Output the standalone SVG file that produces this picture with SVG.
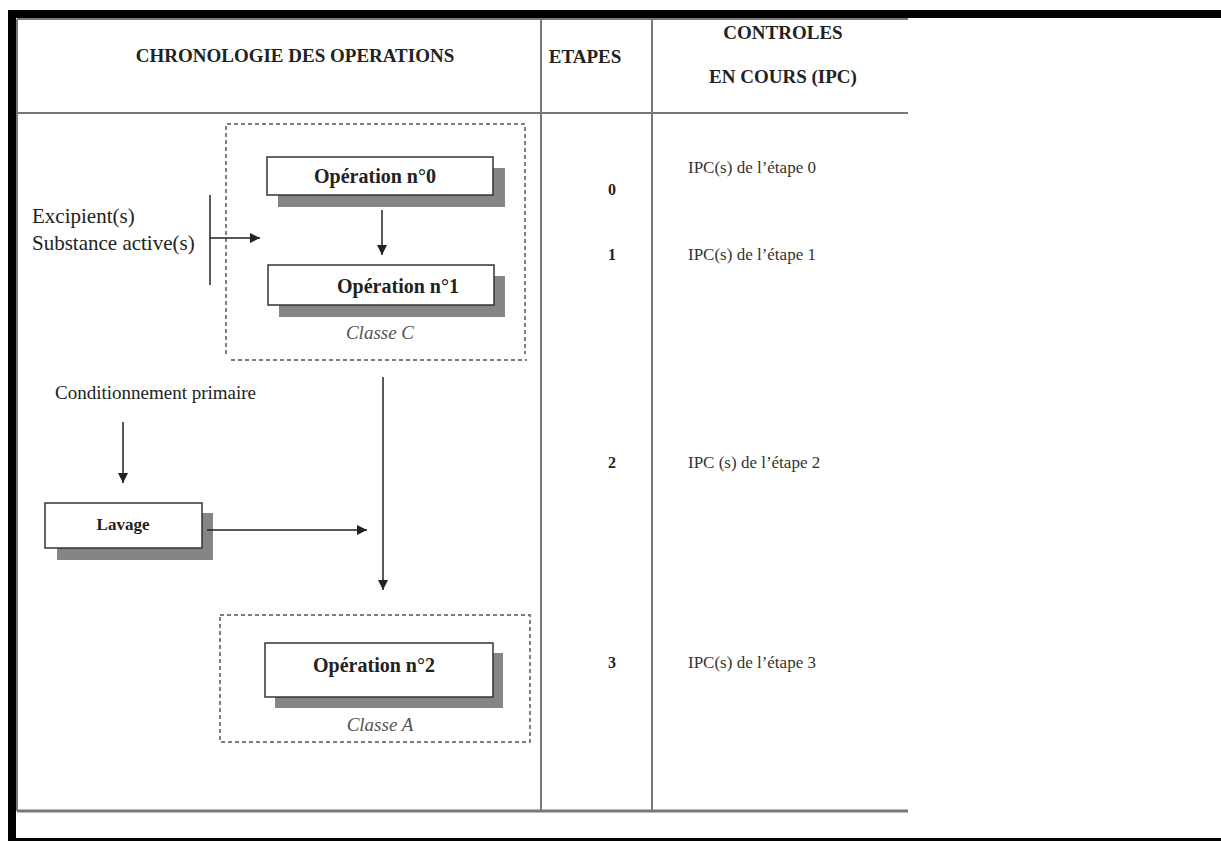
<svg xmlns="http://www.w3.org/2000/svg" width="1221" height="841" viewBox="0 0 1221 841">
<defs>
<style>
.serif{font-family:"Liberation Serif","Times New Roman",serif;fill:#222}
.hdr{font-size:19px;font-weight:bold;text-anchor:middle}
.node{font-size:20px;font-weight:bold;text-anchor:middle}
.txt{font-size:21px}
.ipc{font-size:17px;fill:#333}
.num{font-size:16px;font-weight:bold;text-anchor:middle}
.cls{font-size:19px;font-style:italic;fill:#555;text-anchor:middle}
.grid{stroke:#777;stroke-width:2;fill:none}
.box{fill:#fff;stroke:#333;stroke-width:1.5}
.shadow{fill:#858585}
.dash{fill:none;stroke:#555;stroke-width:1.5;stroke-dasharray:4 3}
.conn{stroke:#222;stroke-width:1.5;fill:none}
</style>
<marker id="arr" viewBox="0 0 10 10" refX="10" refY="5" markerWidth="11" markerHeight="10" markerUnits="userSpaceOnUse" orient="auto">
<path d="M0,0 L10,5 L0,10 z" fill="#222"/>
</marker>
</defs>
<rect width="1221" height="841" fill="#fff"/>
<g id="frame">
<rect x="8" y="10" width="1213" height="8" fill="#000"/>
<rect x="8" y="10" width="8" height="831" fill="#000"/>
<rect x="8" y="838" width="1213" height="3" fill="#000"/>
</g>
<g id="table">
<line class="grid" x1="17" y1="19" x2="908" y2="19"/>
<line class="grid" x1="17" y1="19" x2="17" y2="811"/>
<line class="grid" x1="17" y1="113" x2="908" y2="113"/>
<line class="grid" x1="541" y1="19" x2="541" y2="811"/>
<line class="grid" x1="652" y1="19" x2="652" y2="811"/>
<line x1="17" y1="811" x2="908" y2="811" stroke="#777" stroke-width="3"/>
<text class="serif hdr" x="295" y="62">CHRONOLOGIE DES OPERATIONS</text>
<text class="serif hdr" x="585" y="63">ETAPES</text>
<text class="serif hdr" x="783" y="39">CONTROLES</text>
<text class="serif hdr" x="783" y="83">EN COURS (IPC)</text>
</g>
<g id="steps">
<text class="serif num" x="612" y="195">0</text>
<text class="serif num" x="612" y="260">1</text>
<text class="serif num" x="612" y="468">2</text>
<text class="serif num" x="612" y="668">3</text>
<text class="serif ipc" x="688" y="173">IPC(s) de l’étape 0</text>
<text class="serif ipc" x="688" y="260">IPC(s) de l’étape 1</text>
<text class="serif ipc" x="688" y="468">IPC (s) de l’étape 2</text>
<text class="serif ipc" x="688" y="668">IPC(s) de l’étape 3</text>
</g>
<g id="classeC">
<path class="dash" d="M226,354 V124 H525 V354 M231,360 H527"/>
<text class="serif cls" x="380" y="339">Classe C</text>
</g>
<g id="classeA">
<rect class="dash" x="220" y="615" width="310" height="127"/>
<text class="serif cls" x="380" y="731">Classe A</text>
</g>
<g id="op0">
<rect class="shadow" x="278" y="168" width="227" height="39"/>
<rect class="box" x="267" y="157" width="226" height="38"/>
<text class="serif node" x="375" y="183">Opération n°0</text>
</g>
<g id="op1">
<rect class="shadow" x="279" y="276" width="226" height="41"/>
<rect class="box" x="268" y="265" width="226" height="40"/>
<text class="serif node" x="398" y="293">Opération n°1</text>
</g>
<g id="op2">
<rect class="shadow" x="275" y="653" width="228" height="55"/>
<rect class="box" x="265" y="643" width="228" height="54"/>
<text class="serif node" x="374" y="672">Opération n°2</text>
</g>
<g id="lavage">
<rect class="shadow" x="57" y="513" width="156" height="47"/>
<rect class="box" x="45" y="503" width="157" height="45"/>
<text class="serif node" x="123" y="530" style="font-size:17px">Lavage</text>
</g>
<g id="inputs">
<text class="serif txt" x="32" y="223">Excipient(s)</text>
<text class="serif txt" x="32" y="250">Substance active(s)</text>
</g>
<g id="condPrimaire">
<text class="serif txt" x="55" y="399" style="font-size:19px">Conditionnement primaire</text>
</g>
<g id="connectors">
<line class="conn" x1="210" y1="195" x2="210" y2="285"/>
<line class="conn" x1="210" y1="238" x2="260" y2="238" marker-end="url(#arr)"/>
<line class="conn" x1="382" y1="210" x2="382" y2="255" marker-end="url(#arr)"/>
<line class="conn" x1="123" y1="422" x2="123" y2="483" marker-end="url(#arr)"/>
<line class="conn" x1="207" y1="530" x2="367" y2="530" marker-end="url(#arr)"/>
<line class="conn" x1="383" y1="377" x2="383" y2="590" marker-end="url(#arr)"/>
</g>
</svg>
